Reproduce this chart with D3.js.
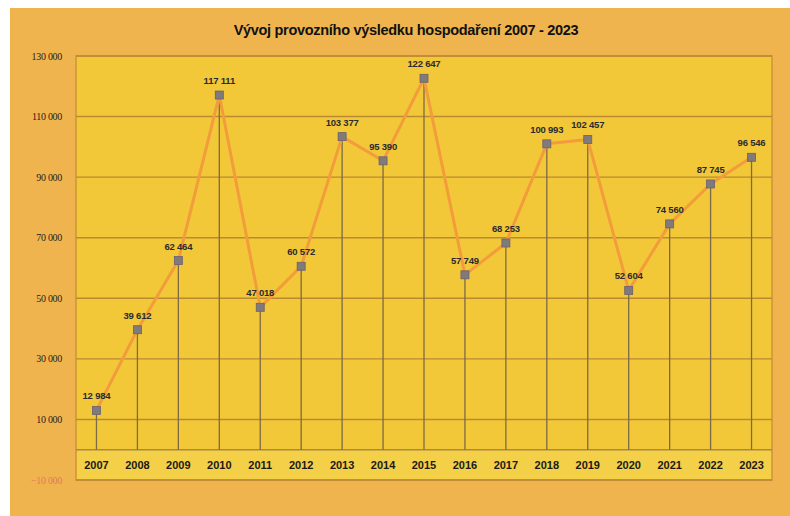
<!DOCTYPE html>
<html><head><meta charset="utf-8">
<script src="https://cdn.jsdelivr.net/npm/d3@7"></script>
<style>html,body{margin:0;padding:0;background:#fff;}</style>
</head><body>
<svg id="c" width="790" height="516"></svg>
<script>
const years = ["2007","2008","2009","2010","2011","2012","2013","2014","2015","2016","2017","2018","2019","2020","2021","2022","2023"];
const values = [12984,39612,62464,117111,47018,60572,103377,95390,122647,57749,68253,100993,102457,52604,74560,87745,96546];
const yTicks = [-10000,10000,30000,50000,70000,90000,110000,130000];
const title = "Vývoj provozního výsledku hospodaření 2007 - 2023";

const svg = d3.select("#c");
const fmt = v => d3.format(",")(v).replace(/,/g, " ");

// outer background
svg.append("rect").attr("x",10).attr("y",8).attr("width",780).attr("height",508).attr("fill","#f0b44e");

const L = 76, R = 772, T = 56, B = 480;
const x = d3.scaleBand().domain(years).range([L, R]);
const y = d3.scaleLinear().domain([-10000,130000]).range([B, T]);

// plot area
svg.append("rect").attr("x",L).attr("y",T).attr("width",R-L).attr("height",B-T).attr("fill","#f2c838")
  .attr("stroke","#d0923a").attr("stroke-width",1.5);
// label strip
svg.append("rect").attr("x",L+1).attr("y",y(0)).attr("width",R-L-2).attr("height",B-y(0)-1).attr("fill","#f4cf48");

// gridlines
svg.append("g").selectAll("line").data(yTicks.concat([0])).join("line")
  .attr("x1",L).attr("x2",R).attr("y1",d=>y(d)).attr("y2",d=>y(d))
  .attr("stroke",d=>d===0?"#a88a48":"#b88a32").attr("stroke-width",1.4);

// y tick labels
svg.append("g").selectAll("text").data(yTicks).join("text")
  .attr("x",L-14).attr("y",d=>y(d)+3.5)
  .attr("text-anchor","end").attr("font-family","Liberation Serif, serif").attr("font-size",10)
  .attr("letter-spacing",-0.3)
  .attr("fill",d=>d<0?"#e07a5a":"#1e1e1e").text(d=>fmt(d));

// drop lines
svg.append("g").selectAll("line").data(values).join("line")
  .attr("x1",(d,i)=>x(years[i])+x.bandwidth()/2).attr("x2",(d,i)=>x(years[i])+x.bandwidth()/2)
  .attr("y1",d=>y(d)).attr("y2",y(0))
  .attr("stroke","#7d6a46").attr("stroke-width",1.3);

// x labels
svg.append("g").selectAll("text").data(years).join("text")
  .attr("x",d=>x(d)+x.bandwidth()/2).attr("y",y(0)+19)
  .attr("text-anchor","middle").attr("font-family","Liberation Sans Narrow, Liberation Sans, sans-serif")
  .attr("font-weight","bold").attr("font-size",11).attr("fill","#1a1a1a").text(d=>d);

// line
const line = d3.line().x((d,i)=>x(years[i])+x.bandwidth()/2).y(d=>y(d));
svg.append("path").datum(values).attr("d",line).attr("fill","none")
  .attr("stroke","#f39c3c").attr("stroke-width",3).attr("stroke-linejoin","round");

// markers
svg.append("g").selectAll("rect").data(values).join("rect")
  .attr("x",(d,i)=>x(years[i])+x.bandwidth()/2-4).attr("y",d=>y(d)-4)
  .attr("width",8).attr("height",8).attr("fill","#807a7a").attr("stroke","#6a6070").attr("stroke-width",0.8);

// data labels
svg.append("g").selectAll("text").data(values).join("text")
  .attr("x",(d,i)=>x(years[i])+x.bandwidth()/2).attr("y",d=>y(d)-11)
  .attr("text-anchor","middle").attr("font-family","Liberation Sans Narrow, Liberation Sans, sans-serif")
  .attr("font-weight","bold").attr("font-size",9.5).attr("letter-spacing",-0.2).attr("fill","#2a2a30").text(d=>fmt(d));

// title
svg.append("text").attr("x",406).attr("y",35).attr("text-anchor","middle")
  .attr("font-family","Liberation Sans Narrow, Liberation Sans, sans-serif").attr("font-weight","bold")
  .attr("font-size",14.5).attr("letter-spacing",-0.3).attr("fill","#111").text(title);
</script>
</body></html>
